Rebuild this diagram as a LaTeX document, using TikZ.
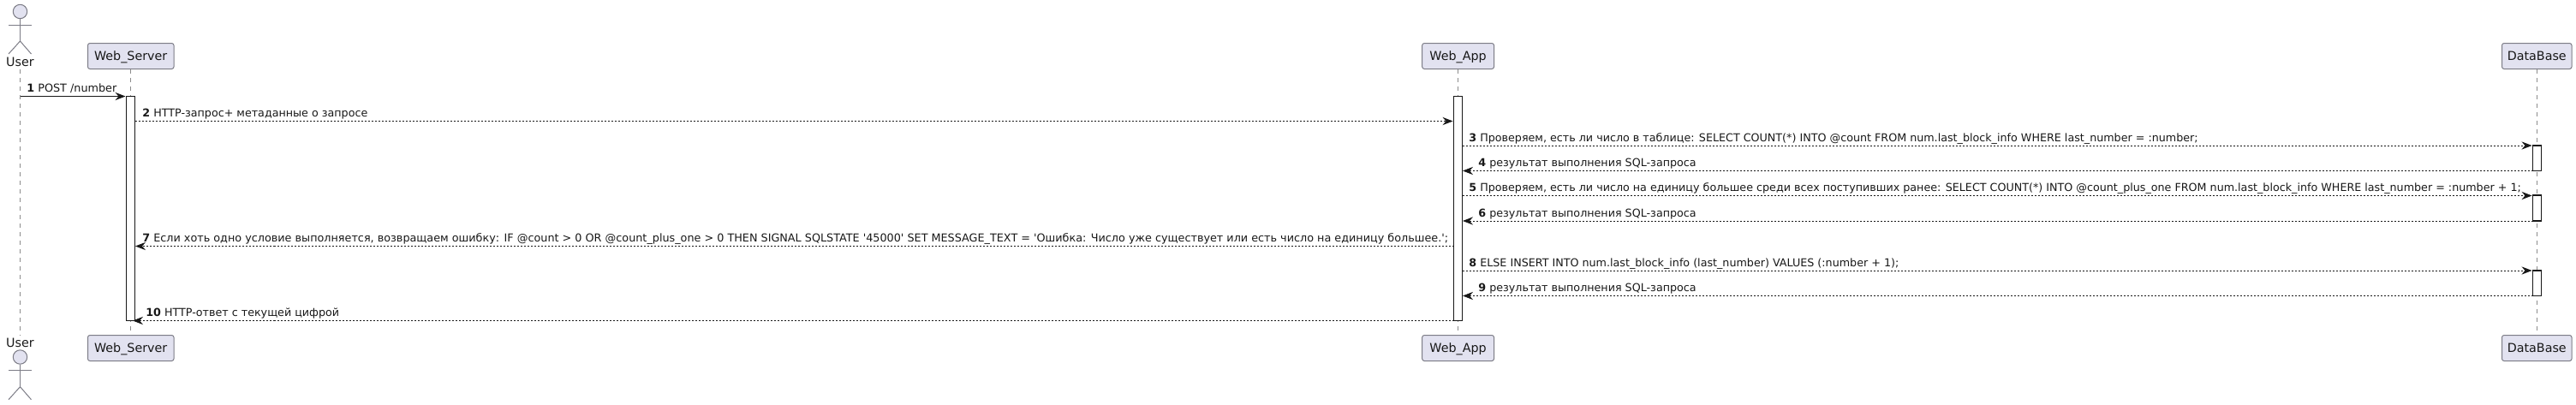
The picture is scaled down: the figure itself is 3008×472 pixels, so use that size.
\documentclass[tikz,border=0pt]{standalone}
\usepackage{fontspec}
\usetikzlibrary{arrows.meta}
\newfontfamily\djv{DejaVu Sans}
\definecolor{partfill}{HTML}{E2E2F0}
\definecolor{partline}{HTML}{7C7C86}
\definecolor{lifeline}{HTML}{8C8C8C}
\definecolor{ink}{HTML}{181818}
\tikzset{
  part/.style={draw=partline,fill=partfill,line width=.5pt,rounded corners=1.25pt,minimum height=15pt,inner sep=0pt,text height=6pt,text depth=1.5pt,text=ink,font=\djv\fontsize{7.15}{9}\selectfont},
  lifel/.style={draw=lifeline,line width=.5pt,dash pattern=on 2.5pt off 2.5pt},
  actorline/.style={draw=partline,line width=.5pt},
  head/.style={circle,draw=partline,fill=partfill,line width=.5pt,minimum size=8.2pt,inner sep=0pt},
  actname/.style={inner sep=0pt,text=ink,font=\djv\fontsize{7.15}{9}\selectfont},
  actbar/.style={draw=ink,fill=white,line width=.55pt,minimum width=5pt,inner sep=0pt},
  tip/.style={-{Stealth[length=6pt,width=4.6pt,inset=2pt,color=ink]}},
  solidmsg/.style={draw=ink,line width=.5pt,tip},
  dashmsg/.style={draw=ink,line width=.4pt,dash pattern=on 1pt off 1pt,tip},
  lbl/.style={anchor=base west,inner sep=0pt,text=ink,font=\djv\fontsize{6.35}{8}\selectfont},
  lblwide/.style={lbl,font=\djv\fontsize{6.39}{8}\selectfont},
}
\begin{document}
\begin{tikzpicture}[x=.5pt,y=-.5pt]
\useasboundingbox (0,0) rectangle (3008,472);
% participants
\node[part,minimum width=50.25pt] (wsT) at (152.75,65.5) {Web\_Server};
\node[part,minimum width=50.25pt] (wsB) at (152.75,406.5) {Web\_Server};
\node[part,minimum width=41.9pt] (waT) at (1702.6,65.5) {Web\_App};
\node[part,minimum width=41.9pt] (waB) at (1702.6,406.5) {Web\_App};
\node[part,minimum width=40.75pt] (dbT) at (2962.25,65.5) {DataBase};
\node[part,minimum width=40.75pt] (dbB) at (2962.25,406.5) {DataBase};
% actor top
\node[head] (hT) at (23.5,13.5) {};
\coordinate (hipT) at (23.5,48);
\coordinate (armLT) at (10,29);
\coordinate (armRT) at (36.5,29);
\coordinate (legLT) at (10,63);
\coordinate (legRT) at (36.5,63);
\draw[actorline] (hT.south) -- (hipT);
\draw[actorline] (armLT) -- (armRT);
\draw[actorline] (legLT) -- (hipT) -- (legRT);
\node[actname] (uT) at (23.5,72.5) {User};
% actor bottom
\node[actname] (uB) at (23.5,400) {User};
\node[head] (hB) at (23.5,417) {};
\coordinate (hipB) at (23.5,451.7);
\coordinate (armLB) at (10,432);
\coordinate (armRB) at (36.5,432);
\coordinate (legLB) at (10,466.7);
\coordinate (legRB) at (36.5,466.7);
\draw[actorline] (hB.south) -- (hipB);
\draw[actorline] (armLB) -- (armRB);
\draw[actorline] (legLB) -- (hipB) -- (legRB);
% lifelines
\coordinate (uTop) at (23.5,81);
\coordinate (uBot) at (23.5,392);
\draw[lifel] (uTop) -- (uBot);
\draw[lifel] (wsT.south) -- (wsB.north);
\draw[lifel] (waT.south) -- (waB.north);
\draw[lifel] (dbT.south) -- (dbB.north);
% activation bars
\node[actbar,minimum height=131pt] (acWS) at (152.5,243.5) {};
\node[actbar,minimum height=131pt] (acWA) at (1702.5,243.5) {};
\node[actbar,minimum height=14.75pt] (acD1) at (2962.5,184.75) {};
\node[actbar,minimum height=15pt] (acD2) at (2962.5,243) {};
\node[actbar,minimum height=14.75pt] (acD3) at (2962.5,330.75) {};
% message end points
\coordinate (m1a) at (23.5,112.5);   \coordinate (m1b) at (146.5,112.5);
\coordinate (m2a) at (157.5,141.5);  \coordinate (m2b) at (1696.5,141.5);
\coordinate (m3a) at (1707.5,170);   \coordinate (m3b) at (2956.5,170);
\coordinate (m4a) at (2957.5,199.5); \coordinate (m4b) at (1708,199.5);
\coordinate (m5a) at (1707.5,228.5); \coordinate (m5b) at (2956.5,228.5);
\coordinate (m6a) at (2957.5,258);   \coordinate (m6b) at (1708,258);
\coordinate (m7a) at (1697.5,287.5); \coordinate (m7b) at (158,287.5);
\coordinate (m8a) at (1707.5,316);   \coordinate (m8b) at (2956.5,316);
\coordinate (m9a) at (2957.5,345.5); \coordinate (m9b) at (1708,345.5);
\coordinate (m10a) at (1697.5,374.5);\coordinate (m10b) at (155,374.5);
\draw[solidmsg] (m1a) -- (m1b);
\foreach \i in {2,...,10}{\draw[dashmsg] (m\i a) -- (m\i b);}
% labels
\node[lblwide] (t1) at (31,107.5) {\textbf{1} POST /number};
\node[lbl] (t2) at (166,136.5) {\textbf{2} HTTP-запрос+ метаданные о запросе};
\node[lbl] (t3) at (1715,165.5) {\textbf{3} Проверяем, есть ли число в таблице: SELECT COUNT(*) INTO @count FROM num.last\_block\_info WHERE last\_number = :number;};
\node[lbl] (t4) at (1726,194.5) {\textbf{4} результат выполнения SQL-запроса};
\node[lbl] (t5) at (1715,223.5) {\textbf{5} Проверяем, есть ли число на единицу большее среди всех поступивших ранее: SELECT COUNT(*) INTO @count\_plus\_one FROM num.last\_block\_info WHERE last\_number = :number + 1;};
\node[lbl] (t6) at (1726,253) {\textbf{6} результат выполнения SQL-запроса};
\node[lblwide] (t7) at (166,282.5) {\textbf{7} Если хоть одно условие выполняется, возвращаем ошибку: IF @count > 0 OR @count\_plus\_one > 0 THEN SIGNAL SQLSTATE '45000' SET MESSAGE\_TEXT = 'Ошибка: Число уже существует или есть число на единицу большее.';};
\node[lbl] (t8) at (1715,311.5) {\textbf{8} ELSE INSERT INTO num.last\_block\_info (last\_number) VALUES (:number + 1);};
\node[lbl] (t9) at (1726,340.5) {\textbf{9} результат выполнения SQL-запроса};
\node[lbl] (t10) at (170,369.5) {\textbf{10} HTTP-ответ с текущей цифрой};
\end{tikzpicture}
\end{document}
